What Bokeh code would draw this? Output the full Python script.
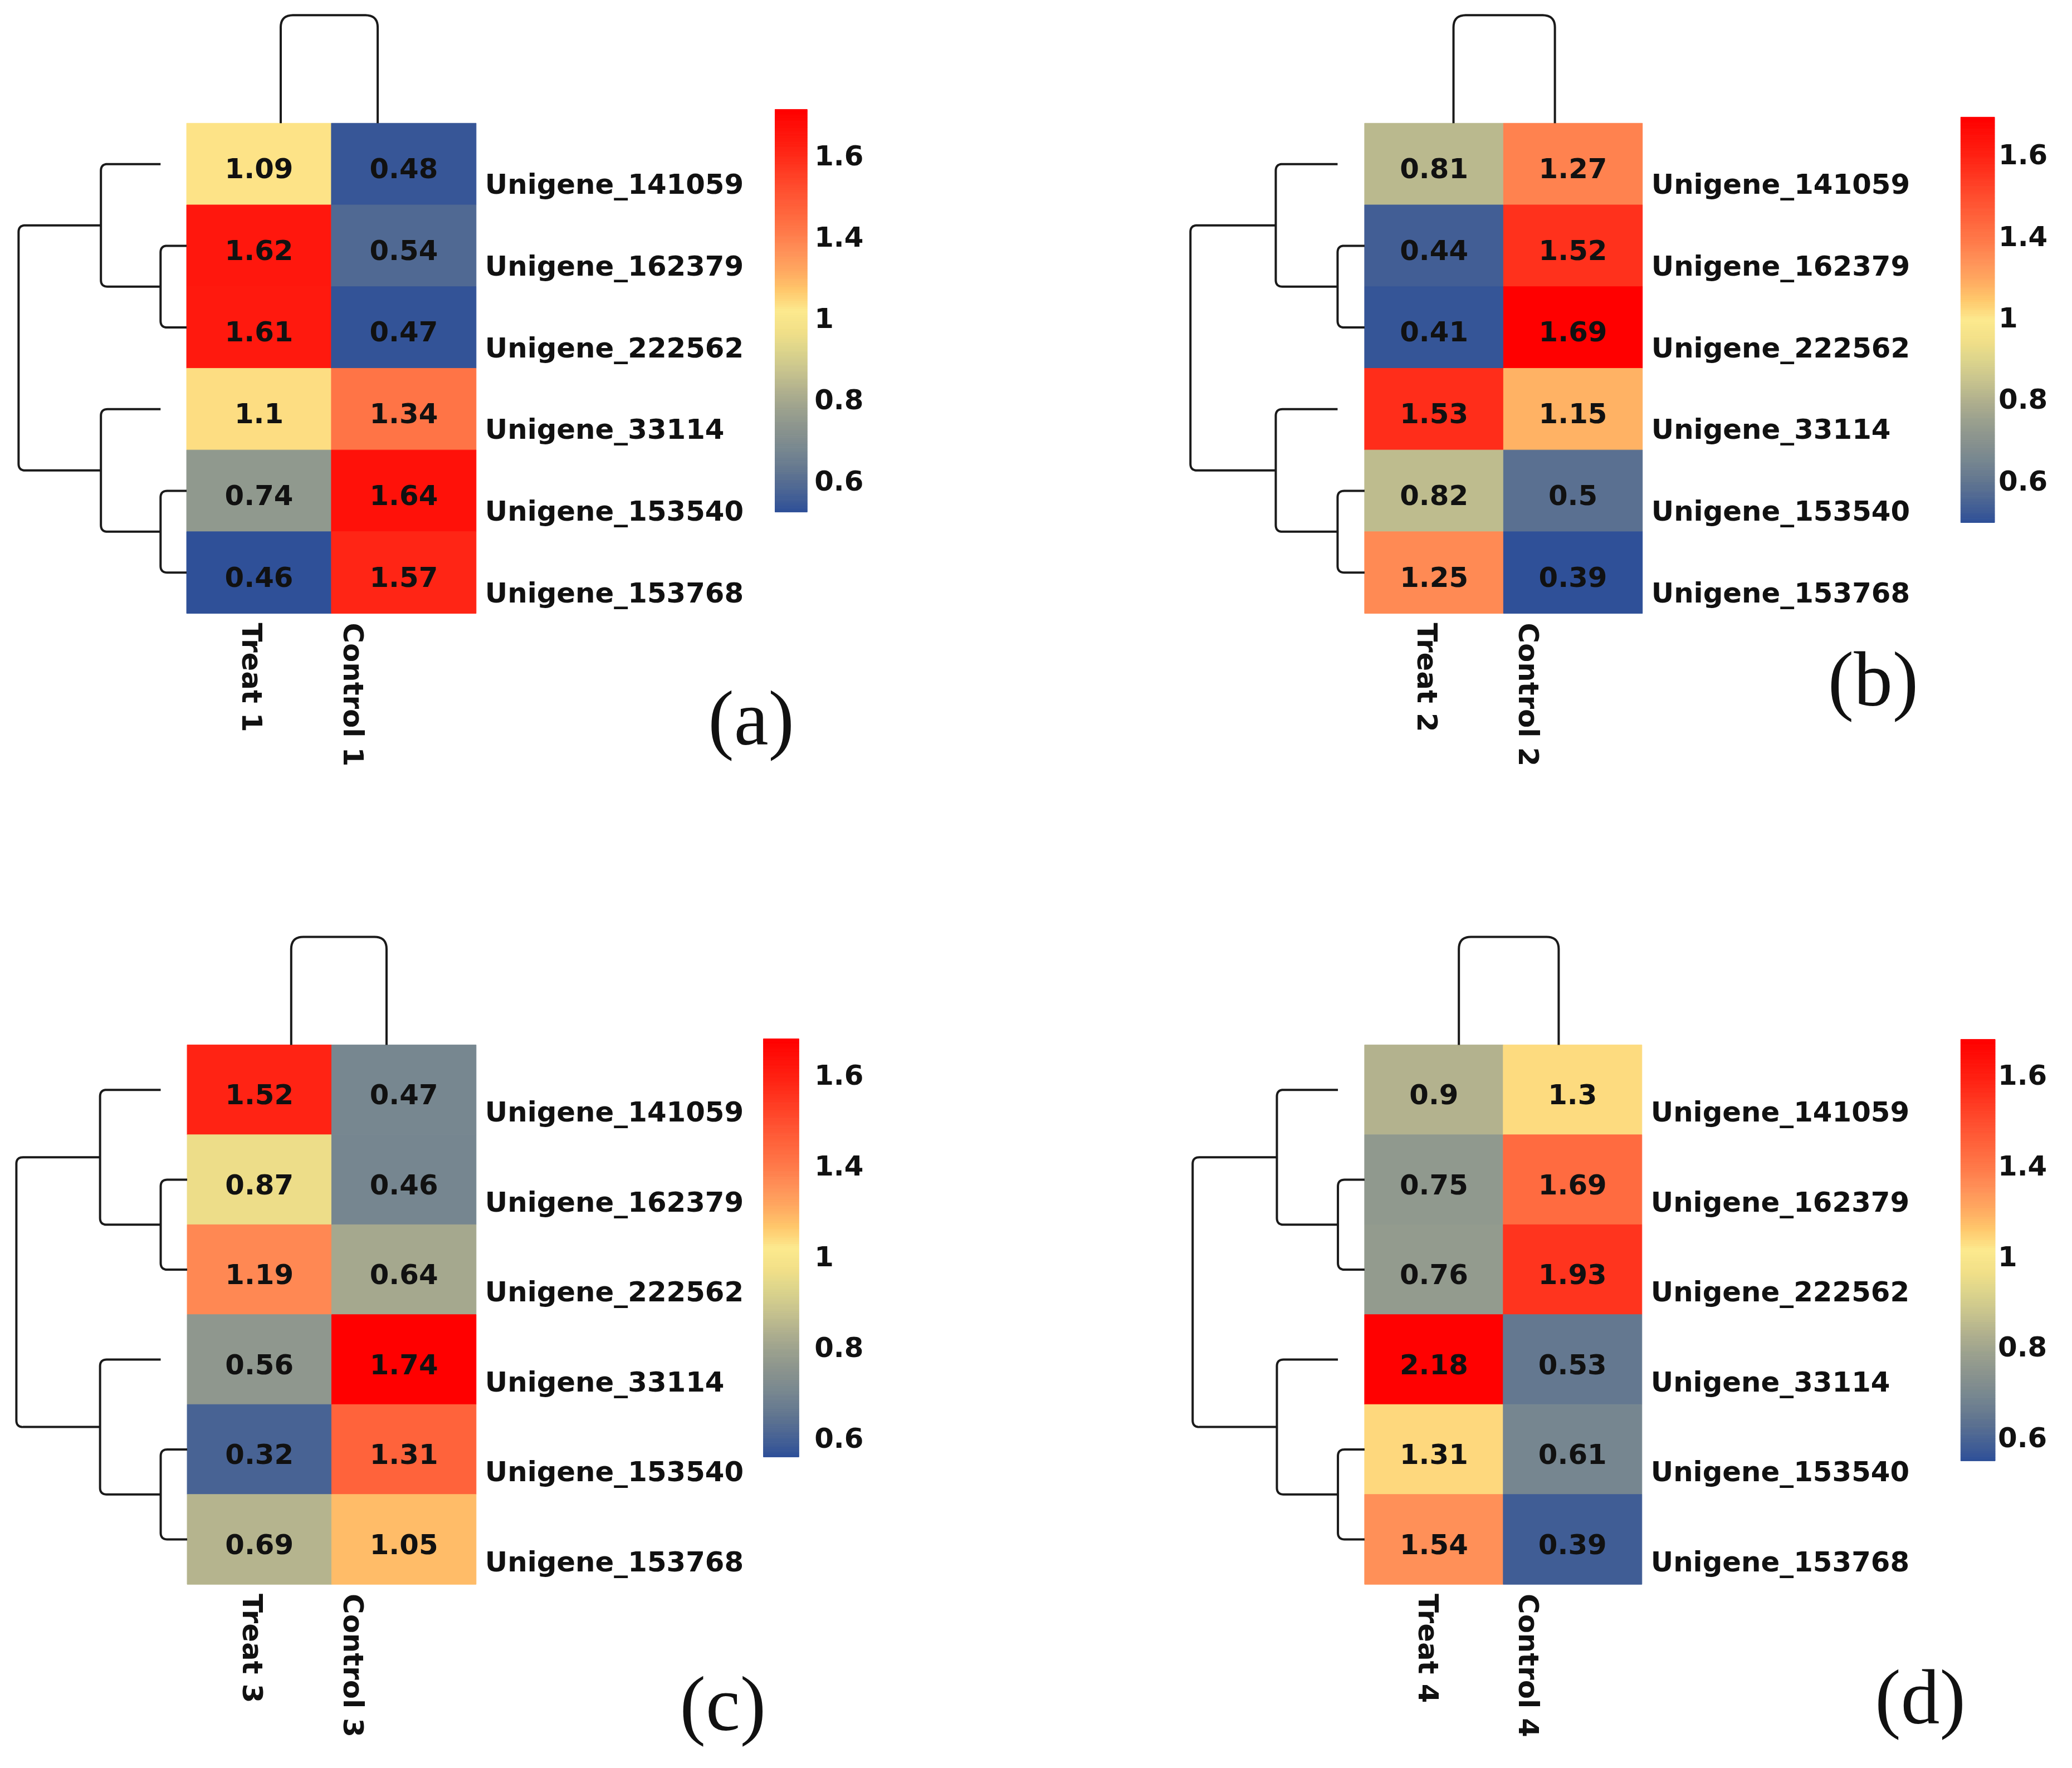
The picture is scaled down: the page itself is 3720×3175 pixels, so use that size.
import numpy as np
from bokeh.plotting import figure
from bokeh.models import Range1d, ColumnDataSource
from bokeh.transform import linear_cmap
from bokeh.layouts import gridplot
from bokeh.embed import file_html
from bokeh.resources import INLINE
from bokeh.core.properties import value

# ---------------- data ----------------
genes = ["Unigene_141059", "Unigene_162379", "Unigene_222562",
         "Unigene_33114", "Unigene_153540", "Unigene_153768"]

treat_a = [1.09, 1.62, 1.61, 1.10, 0.74, 0.46]
control_a = [0.48, 0.54, 0.47, 1.34, 1.64, 1.57]
treat_b = [0.81, 0.44, 0.41, 1.53, 0.82, 1.25]
control_b = [1.27, 1.52, 1.69, 1.15, 0.50, 0.39]
treat_c = [1.52, 0.87, 1.19, 0.56, 0.32, 0.69]
control_c = [0.47, 0.46, 0.64, 1.74, 1.31, 1.05]
treat_d = [0.90, 0.75, 0.76, 2.18, 1.31, 1.54]
control_d = [1.30, 1.69, 1.93, 0.53, 0.61, 0.39]

columns_a = ["Treat 1", "Control 1"]
columns_b = ["Treat 2", "Control 2"]
columns_c = ["Treat 3", "Control 3"]
columns_d = ["Treat 4", "Control 4"]

panel_tags = ["(a)", "(b)", "(c)", "(d)"]
colorbar_labels = ["1.6", "1.4", "1", "0.8", "0.6"]  # top to bottom

# row dendrogram: (child1, child2, relative height); leaves 0..5, merges 6..10
row_linkage = [(1, 2, 0.155), (0, 6, 0.51), (4, 5, 0.155), (3, 8, 0.51), (7, 9, 1.0)]

# ---------------- style ----------------
stop_pos = [0.00, 0.05, 0.10, 0.15, 0.20, 0.25, 0.30, 0.35, 0.40, 0.45,
            0.50, 0.55, 0.60, 0.65, 0.70, 0.80, 0.90, 1.00]
stops = ["#2F5098", "#4A6494", "#627690", "#768690", "#88928E", "#9AA08E",
         "#B0B08E", "#C8C48E", "#DCD48C", "#F2E088", "#FCE98E", "#FFC86C",
         "#FFA860", "#FF9058", "#FF7848", "#FF5030", "#FF2414", "#FF0000"]


def hex2rgb(h):
    return np.array([int(h[i:i + 2], 16) for i in (1, 3, 5)], float)


stop_rgb = [hex2rgb(h) for h in stops]
palette = []
for t in np.linspace(0, 1, 256):
    k = int(min(np.searchsorted(stop_pos, t, side="right") - 1, len(stops) - 2))
    f = (t - stop_pos[k]) / (stop_pos[k + 1] - stop_pos[k])
    c = stop_rgb[k] * (1 - f) + stop_rgb[k + 1] * f
    palette.append("#%02x%02x%02x" % tuple(int(round(x)) for x in c))

REF_W, REF_H = 1860.0, 1587.5
W, H = 1852, 1579
SX = W / REF_W
FONT = value("DejaVu Sans")
SERIF = value("Liberation Serif")
FS = 50 * SX
TAG_FS = 140 * SX

layouts = [
    dict(heat=(336, 858, 222, 1107), cbar=(1397, 1455, 197, 924), tick_x=1468,
         f0=0.114, step=0.202, legs=(0.65, 1.32), labx=(0.45, 1.15),
         tag=(1354, 1310), dw=303, lohi=(0.46, 1.70)),
    dict(heat=(600, 1101, 222, 1107), cbar=(1675, 1736, 211, 943), tick_x=1743,
         f0=0.092, step=0.201, legs=(0.64, 1.37), labx=(0.45, 1.18),
         tag=(1517, 1240), dw=314, lohi=(0.39, 1.69)),
    dict(heat=(337, 858, 298.5, 1272.5), cbar=(1376, 1440, 287.5, 1042.5), tick_x=1468,
         f0=0.086, step=0.217, legs=(0.72, 1.38), labx=(0.45, 1.15),
         tag=(1303, 1502), dw=308, lohi=(0.25, 1.66)),
    dict(heat=(600, 1100, 298.5, 1272.5), cbar=(1675, 1737, 288.5, 1049.5), tick_x=1742,
         f0=0.084, step=0.215, legs=(0.68, 1.40), labx=(0.46, 1.18),
         tag=(1602, 1490), dw=310, lohi=(0.33, 2.19)),
]

panels = [(treat_a, control_a, columns_a), (treat_b, control_b, columns_b),
          (treat_c, control_c, columns_c), (treat_d, control_d, columns_d)]


def rounded(points, r, n=10):
    out = [points[0]]
    for i in range(1, len(points) - 1):
        p0 = np.array(points[i - 1], float)
        p1 = np.array(points[i], float)
        p2 = np.array(points[i + 1], float)
        d1 = p0 - p1
        d2 = p2 - p1
        l1, l2 = np.hypot(*d1), np.hypot(*d2)
        rr = min(r, l1 / 2, l2 / 2)
        a = p1 + d1 / l1 * rr
        b = p1 + d2 / l2 * rr
        for t in np.linspace(0, 1, n):
            q = (1 - t) ** 2 * a + 2 * (1 - t) * t * p1 + t ** 2 * b
            out.append((q[0], q[1]))
    out.append(points[-1])
    return out


figs = []
for (treat, control, cols), L, tag in zip(panels, layouts, panel_tags):
    hl, hr, ht, hb = L["heat"]
    col_w = (hr - hl) / 2.0
    row_h = (hb - ht) / 6.0

    def ux(px):
        return (px - hl) / col_w

    def uy(py):
        return (py - ht) / row_h

    p = figure(width=W, height=H, output_backend="svg", toolbar_location=None, tools="",
               x_range=Range1d(ux(0), ux(REF_W)), y_range=Range1d(uy(REF_H), uy(0)),
               min_border=0)
    p.axis.visible = False
    p.grid.visible = False
    p.outline_line_color = None
    p.background_fill_color = "white"
    p.border_fill_color = "white"

    lo, hi = L["lohi"]
    cmap = linear_cmap("v", palette, lo, hi)

    # heatmap cells
    xs, ys, vs, labs = [], [], [], []
    for ci, series in enumerate([treat, control]):
        for ri, v in enumerate(series):
            xs.append(ci + 0.5)
            ys.append(ri + 0.5)
            vs.append(v)
            labs.append(f"{v:g}")
    src = ColumnDataSource(dict(x=xs, y=ys, v=vs, lab=labs,
                                yt=[y + 0.05 for y in ys]))
    p.rect(x="x", y="y", width=1, height=1, source=src,
           fill_color=cmap, line_color=cmap, line_width=1)
    p.text(x="x", y="yt", text="lab", source=src, text_font=FONT,
           text_font_style="bold", text_font_size=f"{FS:.1f}px",
           text_align="center", text_baseline="middle", text_color="#111111")

    # row labels
    p.text(x=[ux(hr + 16)] * 6, y=[i + 0.5 + 0.25 for i in range(6)], text=genes,
           text_font=FONT, text_font_style="bold", text_font_size=f"{FS:.1f}px",
           text_align="left", text_baseline="middle", text_color="#111111")

    # column labels (rotated)
    p.text(x=list(L["labx"]), y=[uy(hb + 17)] * 2, text=cols, angle=-np.pi / 2,
           text_font=FONT, text_font_style="bold", text_font_size=f"{FS:.1f}px",
           text_align="left", text_baseline="middle", text_color="#111111")

    # row dendrogram
    dw = L["dw"]
    min_h = min(h for _, _, h in row_linkage)
    node_y = {i: (i + 0.5) * row_h for i in range(6)}
    node_h = {i: 0.0 for i in range(6)}
    parent_h = {}
    for c1, c2, h in row_linkage:
        parent_h[c1] = h
        parent_h[c2] = h
    mx_list, my_list = [], []
    for k, (c1, c2, h) in enumerate(row_linkage):
        nid = 6 + k
        node_h[nid] = h
        node_y[nid] = (node_y[c1] + node_y[c2]) / 2.0
        a, b = sorted([c1, c2], key=lambda n: node_y[n])

        def child_x(n):
            if n < 6:
                return 0.0 if parent_h[n] <= min_h else -min_h * dw
            return -node_h[n] * dw
        mxp = -h * dw
        pts = [(child_x(a), node_y[a]), (mxp, node_y[a]), (mxp, node_y[b]), (child_x(b), node_y[b])]
        pts = rounded(pts, 12)
        mx_list.append([ux(hl + q[0]) for q in pts])
        my_list.append([uy(ht + q[1]) for q in pts])

    # column dendrogram
    l0, l1 = L["legs"]
    top = -195.0
    pts = [(l0 * col_w, 0.0), (l0 * col_w, top), (l1 * col_w, top), (l1 * col_w, 0.0)]
    pts = rounded(pts, 22)
    mx_list.append([ux(hl + q[0]) for q in pts])
    my_list.append([uy(ht + q[1]) for q in pts])
    p.multi_line(xs=mx_list, ys=my_list, line_color="#1a1a1a", line_width=4,
                 line_join="round", line_cap="butt")

    # colorbar
    cl, cr, ct, cb = L["cbar"]
    n = 200
    edges = np.linspace(0, 1, n + 1)
    cb_src = ColumnDataSource(dict(
        left=[ux(cl)] * n, right=[ux(cr)] * n,
        top=[uy(cb - (cb - ct) * e) for e in edges[1:]],
        bottom=[uy(cb - (cb - ct) * e) for e in edges[:-1]],
        v=list((edges[:-1] + edges[1:]) / 2)))
    bar_map = linear_cmap("v", palette, 0, 1)
    p.quad(left="left", right="right", top="top", bottom="bottom", source=cb_src,
           fill_color=bar_map, line_color=bar_map, line_width=1)
    ty = [uy(ct + (L["f0"] + i * L["step"]) * (cb - ct)) for i in range(len(colorbar_labels))]
    p.text(x=[ux(L["tick_x"])] * len(colorbar_labels), y=ty, text=colorbar_labels,
           text_font=FONT, text_font_style="bold", text_font_size=f"{FS:.1f}px",
           text_align="left", text_baseline="middle", text_color="#111111")

    # panel tag
    tx, tyy = L["tag"]
    p.text(x=[ux(tx)], y=[uy(tyy - 14)], text=[tag], text_font=SERIF,
           text_font_size=f"{TAG_FS:.1f}px", text_align="center",
           text_baseline="middle", text_color="#111111")

    figs.append(p)

grid = gridplot([[figs[0], figs[1]], [figs[2], figs[3]]], toolbar_location=None)
open("out.html", "w").write(file_html(grid, INLINE))
